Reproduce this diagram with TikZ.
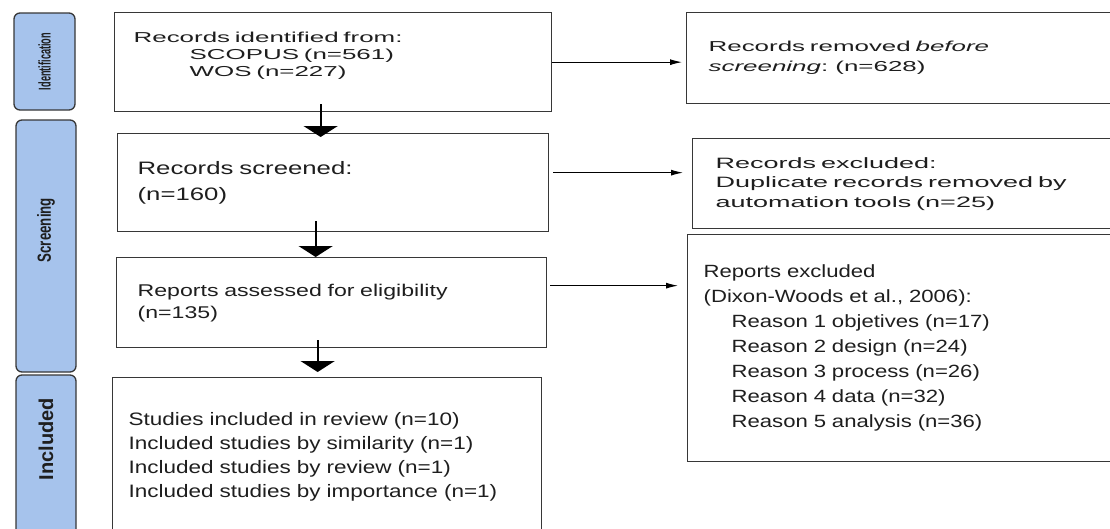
\documentclass[tikz,border=0pt]{standalone}
\usepackage{fontspec}
\setmainfont{Liberation Sans}
\newfontfamily\wideA[FakeStretch=1.8]{Liberation Sans}
\newfontfamily\wideB[FakeStretch=1.43]{Liberation Sans}
\newfontfamily\wideD[FakeStretch=1.36]{Liberation Sans}
\newfontfamily\wideC[FakeStretch=1.25]{Liberation Sans}
\newfontfamily\narrowA[FakeStretch=0.54]{Liberation Sans}
\newfontfamily\narrowB[FakeStretch=0.7]{Liberation Sans}
\usetikzlibrary{arrows.meta}
\definecolor{phasefill}{RGB}{166,195,236}
\definecolor{boxline}{RGB}{55,55,55}
\definecolor{txt}{RGB}{30,30,30}

\begin{document}
\begin{tikzpicture}[
		x=1pt, y=-1pt,
		every node/.style={rectangle, draw=boxline, line width=1.3pt, text=txt, align=left, anchor=north west, inner ysep=0pt},
		phase/.style={fill=phasefill, rounded corners=6pt, anchor=center, rotate=90, minimum height=60pt},
		flow/.style={line width=2pt, -{Triangle[width=34pt,length=11pt]}},
		side/.style={line width=1pt, -{Latex[length=12pt,width=6pt]}}
	]
  \useasboundingbox (0,0) rectangle (1110,528);
  \clip (0,0) rectangle (1110,528);
  % phases
  \node (ident) [phase, minimum width=97pt, minimum height=61pt, align=center, font=\narrowA\bfseries\fontsize{17}{18}\selectfont] at (44.5, 61.5) {Identification};
  \node (scrn) [phase, text width=96pt, inner xsep=78pt, align=right, font=\narrowB\bfseries\fontsize{19}{20}\selectfont] at (46, 246) {Screening};
  \node (incl) [phase, text width=119pt, inner xsep=23pt, align=right, font=\bfseries\fontsize{20}{24}\selectfont] at (46, 457.5) {Included};
  % main column
  \node (found) [text width=399pt, inner xsep=19pt, minimum height=99pt, text depth=50pt, font=\wideA\fontsize{14.4}{17}\selectfont] at (114, 12)
    {Records identified from:\\\hspace*{56pt}SCOPUS (n=561)\\\hspace*{56pt}WOS (n=227)};
  \node (screened) [text width=391pt, inner xsep=20pt, minimum height=98pt, font=\wideB\fontsize{18}{26}\selectfont] at (117, 133)
    {Records screened:\\(n=160)};
  \node (assessed) [text width=388pt, inner xsep=21pt, minimum height=90pt, font=\wideD\fontsize{17}{22}\selectfont] at (116, 257)
    {Reports assessed for eligibility\\(n=135)};
  \node (studies) [text width=397pt, inner xsep=16pt, minimum height=158pt, font=\wideC\fontsize{18}{24}\selectfont] at (112, 377)
    {Studies included in review (n=10)\\Included studies by similarity (n=1)\\Included studies by review (n=1)\\Included studies by importance (n=1)};
  % side column
  \node (removed) [text width=396pt, inner xsep=22pt, minimum height=91pt, font=\wideA\fontsize{14.4}{20}\selectfont] at (686, 12)
    {Records removed \textit{before}\\\textit{screening}: (n=628)};
  \node (dupl) [text width=394pt, inner xsep=23pt, minimum height=90pt, font=\wideA\fontsize{15}{19.5}\selectfont] at (692, 138)
    {Records excluded:\\Duplicate records removed by\\automation tools (n=25)};
  \node (reasons) [text width=408pt, inner xsep=16pt, minimum height=227pt, font=\wideC\fontsize{17.7}{25}\selectfont] at (687, 234)
    {Reports excluded\\(Dixon-Woods et al., 2006):\\\hspace*{28pt}Reason 1 objetives (n=17)\\\hspace*{28pt}Reason 2 design (n=24)\\\hspace*{28pt}Reason 3 process (n=26)\\\hspace*{28pt}Reason 4 data (n=32)\\\hspace*{28pt}Reason 5 analysis (n=36)};
  % arrows
  \draw [flow] ([xshift=-12.5pt, yshift=8pt]found.south) -- ([xshift=-12.5pt, yshift=-4pt]screened.north);
  \draw [flow] ([xshift=-17.5pt, yshift=11pt]screened.south) -- ([xshift=-16pt]assessed.north);
  \draw [flow] ([xshift=-14pt, yshift=8pt]assessed.south) -- ([xshift=-9.5pt, yshift=5pt]studies.north);
  \coordinate (s1) at (found.east);
  \coordinate (s2) at ([yshift=10pt]screened.east);
  \coordinate (s3) at ([yshift=17pt]assessed.east);
  \draw [side, shorten >=4pt] (s1) -- (s1 -| removed.west);
  \draw [side, shorten <=4pt, shorten >=9pt] (s2) -- (s2 -| dupl.west);
  \draw [side, shorten <=3pt, shorten >=9pt] (s3) -- (s3 -| reasons.west);
\end{tikzpicture}
\end{document}
